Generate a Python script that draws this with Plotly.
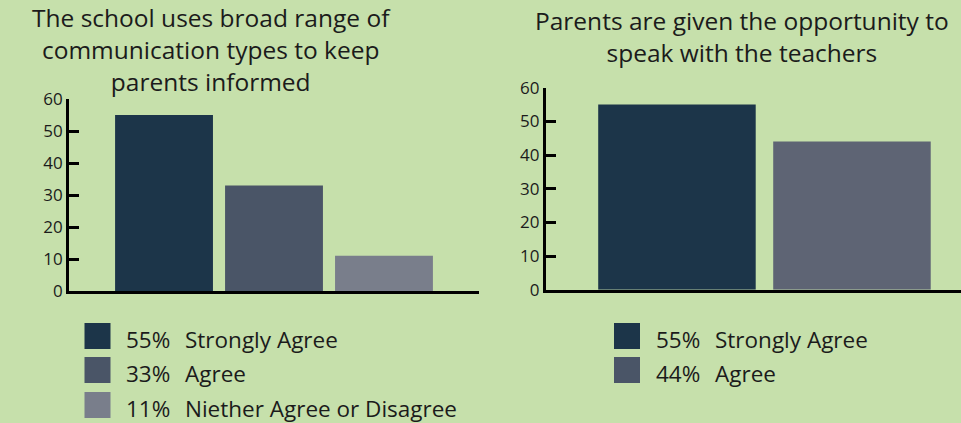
import plotly.graph_objects as go

# Survey results (percent of parents)
comm_labels = ["Strongly Agree", "Agree", "Niether Agree or Disagree"]
comm_values = [55, 33, 11]
comm_colors = ["#1c3549", "#4a5567", "#797e8b"]

speak_labels = ["Strongly Agree", "Agree"]
speak_values = [55, 44]
speak_colors = ["#1c3549", "#5e6474"]
speak_legend_colors = ["#1c3549", "#4a5567"]

y_ticks = [0, 10, 20, 30, 40, 50, 60]

comm_title = ["The school uses broad range of", "communication types to keep", "parents informed"]
speak_title = ["Parents are given the opportunity to", "speak with the teachers"]

W, H = 961, 423
BG = "#c6e0ab"
INK = "#1b1b1b"
FONT = "Open Sans"
TITLE_SIZE = 24.5
LEGEND_SIZE = 22.5


def px(x):
    return x / W


def py(y):
    return (H - y) / H


fig = go.Figure()

fig.add_trace(go.Bar(
    x=list(range(len(comm_values))), y=comm_values,
    marker=dict(color=comm_colors, line=dict(width=0)),
    width=0.89, xaxis="x", yaxis="y", showlegend=False, hoverinfo="skip",
))
fig.add_trace(go.Bar(
    x=list(range(len(speak_values))), y=speak_values,
    marker=dict(color=speak_colors, line=dict(width=0)),
    width=0.9, xaxis="x2", yaxis="y2", showlegend=False, hoverinfo="skip",
))

axis_common = dict(showgrid=False, zeroline=False, showline=True, automargin=False,
                   linecolor="black", linewidth=2.7)
yaxis_common = dict(axis_common, range=[0, 60], tickvals=y_ticks,
                    ticks="inside", ticklen=10, tickwidth=2.7, tickcolor="black",
                    ticklabelstandoff=0,
                    tickfont=dict(family=FONT, size=17, color=INK))

fig.update_layout(
    template="none",
    width=W, height=H,
    margin=dict(l=0, r=0, t=0, b=0, pad=0),
    paper_bgcolor=BG, plot_bgcolor=BG,
    xaxis=dict(axis_common, domain=[px(69), px(479)], range=[-0.864, 2.864],
               showticklabels=False, ticks=""),
    yaxis=dict(yaxis_common, domain=[py(291), py(99)], anchor="x"),
    xaxis2=dict(axis_common, domain=[px(545.7), 1], range=[-0.75, 1.623],
                showticklabels=False, ticks="", anchor="y2"),
    yaxis2=dict(yaxis_common, domain=[py(289.7), py(87.7)], anchor="x2"),
)

annotations = []


def add_title(lines, cx, first_baseline):
    # one multi-line text block; plotly spaces lines at 1.3em
    n = len(lines)
    last_baseline = first_baseline + (n - 1) * 1.3 * TITLE_SIZE
    mid = (first_baseline - 1.069 * TITLE_SIZE + last_baseline + 0.293 * TITLE_SIZE) / 2
    annotations.append(dict(text="<br>".join(lines), x=px(cx), y=py(mid),
                            xref="paper", yref="paper", xanchor="center",
                            yanchor="middle", align="center", showarrow=False,
                            font=dict(family=FONT, size=TITLE_SIZE, color=INK)))


add_title(comm_title, 211, 27)
add_title(speak_title, 742, 30)

shapes = []


def add_legend(labels, values, colors, sw_left, pct_right, rows_top):
    for lab, val, col, top in zip(labels, values, colors, rows_top):
        shapes.append(dict(type="rect", xref="paper", yref="paper",
                           x0=px(sw_left), x1=px(sw_left + 26),
                           y0=py(top + 26), y1=py(top),
                           fillcolor=col, line=dict(width=0)))
        mid = top + 25.5 - 0.388 * LEGEND_SIZE
        annotations.append(dict(text=f"{val}%", x=px(pct_right), y=py(mid),
                                xref="paper", yref="paper", xanchor="right",
                                yanchor="middle", showarrow=False,
                                font=dict(family=FONT, size=LEGEND_SIZE, color=INK)))
        annotations.append(dict(text=lab, x=px(pct_right + 11), y=py(mid),
                                xref="paper", yref="paper", xanchor="left",
                                yanchor="middle", showarrow=False,
                                font=dict(family=FONT, size=LEGEND_SIZE, color=INK)))


add_legend(comm_labels, comm_values, comm_colors, 84.5, 172, [323, 357, 392])
add_legend(speak_labels, speak_values, speak_legend_colors, 614, 702, [323, 357])

fig.update_layout(annotations=annotations, shapes=shapes)

fig.write_html("out.html")
